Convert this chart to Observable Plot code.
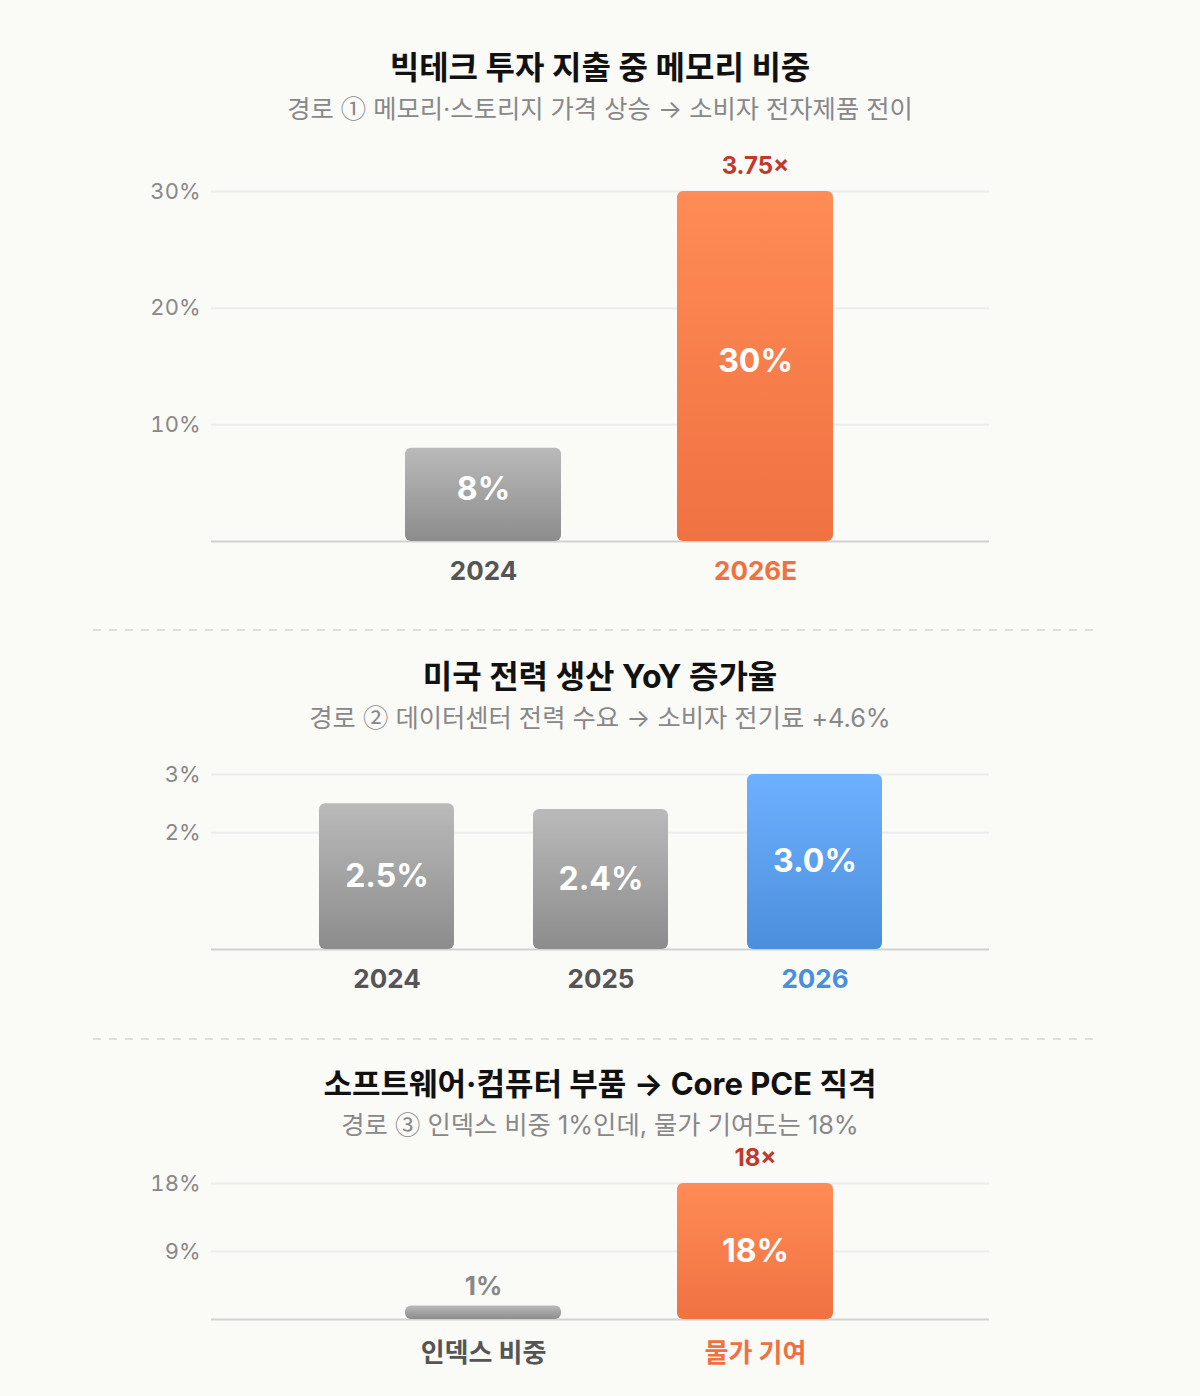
<!DOCTYPE html>
<html><head><meta charset="utf-8">
<script src="https://cdn.jsdelivr.net/npm/d3@7"></script>
<script src="https://cdn.jsdelivr.net/npm/@observablehq/plot@0.6"></script>
<style>
body{margin:0;background:#fafaf7;font-family:Inter,"Noto Sans CJK KR",sans-serif;}
#root{width:1200px;}
.title{font-size:32px;font-weight:700;color:#111;text-align:center;line-height:40px;height:40px;}
.title.t3{font-size:31px;}
.sub{font-size:25.3px;color:#888;text-align:center;line-height:32px;height:32px;margin-top:3px;}
.cjk{font-family:"Noto Sans CJK KR",sans-serif;}
.sep{margin-left:93px;width:1008px;height:2px;background:repeating-linear-gradient(to right,#dddddd 0 8px,transparent 8px 16px);}
svg{display:block;}
</style></head><body><div id="root"></div>
<script>
// Panel 1
const memTitle = "빅테크 투자 지출 중 메모리 비중";
const memSubtitle = "경로 ① 메모리·스토리지 가격 상승 → 소비자 전자제품 전이";
const memCategories = ["2024", "2026E"];
const memValues = [8, 30];
const memTicks = [10, 20, 30];
const memMultiplier = "3.75×";
// Panel 2
const powerTitle = "미국 전력 생산 YoY 증가율";
const powerSubtitle = "경로 ② 데이터센터 전력 수요 → 소비자 전기료 +4.6%";
const powerCategories = ["2024", "2025", "2026"];
const powerValues = [2.5, 2.4, 3.0];
const powerTicks = [2, 3];
// Panel 3
const pceTitle = "소프트웨어·컴퓨터 부품 → Core PCE 직격";
const pceSubtitle = "경로 ③ 인덱스 비중 1%인데, 물가 기여도는 18%";
const pceCategories = ["인덱스 비중", "물가 기여"];
const pceValues = [1, 18];
const pceTicks = [9, 18];
const pceMultiplier = "18×";

const FONT = 'Inter,"Noto Sans CJK KR",sans-serif';
const ACCENTS = {
  orange: {top: "#ff8b56", bottom: "#f07242", text: "#f07040"},
  blue: {top: "#6db0ff", bottom: "#4a8fdc", text: "#4a8fdc"}
};

const root = document.getElementById("root");
function addDiv(cls, text, mt) {
  const d = document.createElement("div");
  d.className = cls;
  if (text) {
    // circled numerals drawn from the CJK face
    for (const part of text.split(/([①②③])/)) {
      if (!part) continue;
      if (/[①②③]/.test(part)) {
        const s = document.createElement("span");
        s.className = "cjk";
        s.textContent = part;
        d.appendChild(s);
      } else d.appendChild(document.createTextNode(part));
    }
  }
  if (mt != null) d.style.marginTop = mt + "px";
  root.appendChild(d);
  return d;
}

function panel(o) {
  const data = o.cats.map((c, i) => ({cat: c, val: o.vals[i]}));
  const max = d3.max(o.vals);
  const isHi = d => d.cat === o.highlight;
  const gray = data.filter(d => !isHi(d));
  const hi = data.filter(isHi);
  const acc = ACCENTS[o.accent];
  const gid = "g" + o.id;
  const inside = data.filter(d => d.val / max >= 0.2);
  const outside = data.filter(d => d.val / max < 0.2);
  const marks = [
    Plot.ruleY(o.ticks, {stroke: "#ececec", strokeWidth: 2}),
    Plot.ruleY([0], {stroke: "#d2d2d2", strokeWidth: 2}),
    Plot.barY(gray, {x: "cat", y: "val", fill: `url(#${gid}-gray)`, rx: 6, insetTop: o.smallInset || 0}),
    Plot.barY(hi, {x: "cat", y: "val", fill: `url(#${gid}-hi)`, rx: 6}),
    Plot.axisY(o.ticks, {tickSize: 0, tickPadding: 11, tickFormat: d => d + "%", fontSize: 22, fill: "#888", label: null}),
    Plot.text(inside, {x: "cat", y: d => d.val / 2, dy: o.valueDy || 0, text: d => o.fmt(d.val), fill: "white", fontSize: 32, fontWeight: 700}),
    Plot.text(outside, {x: "cat", y: "val", dy: -25, text: d => o.fmt(d.val), fill: "#888", fontSize: 26, fontWeight: 700}),
    Plot.text(gray, {x: "cat", y: 0, dy: o.labelDy, text: "cat", fill: "#555", fontSize: 26, fontWeight: 700}),
    Plot.text(hi, {x: "cat", y: 0, dy: o.labelDy, text: "cat", fill: acc.text, fontSize: 26, fontWeight: 700})
  ];
  if (o.mult) {
    marks.push(Plot.text(hi, {x: "cat", y: "val", dy: -25, text: () => o.mult, fill: "#c0392b", fontSize: 24, fontWeight: 700}));
  }
  const svg = Plot.plot({
    width: 1200,
    height: o.height,
    marginLeft: 211,
    marginRight: 211,
    marginTop: o.marginTop,
    marginBottom: 50,
    style: {fontFamily: FONT, background: "transparent", overflow: "visible"},
    x: {domain: o.cats, axis: null, range: o.xRange, paddingInner: o.padIn, paddingOuter: o.padOut},
    y: {domain: [0, max], axis: null},
    marks
  });
  const defs = d3.select(svg).insert("defs", ":first-child");
  const mk = (id, top, bottom) => {
    const g = defs.append("linearGradient").attr("id", id).attr("x1", 0).attr("y1", 0).attr("x2", 0).attr("y2", 1);
    g.append("stop").attr("offset", "0%").attr("stop-color", top);
    g.append("stop").attr("offset", "100%").attr("stop-color", bottom);
  };
  mk(gid + "-gray", "#bababa", "#8c8c8c");
  mk(gid + "-hi", acc.top, acc.bottom);
  return svg;
}

// Panel 1
addDiv("title", memTitle, 48);
addDiv("sub", memSubtitle);
let s1 = panel({id: 1, cats: memCategories, vals: memValues, ticks: memTicks, highlight: "2026E", accent: "orange",
  mult: memMultiplier, fmt: v => v + "%", height: 451, marginTop: 51, xRange: [347, 891], padIn: 0.4265, padOut: 0.213,
  valueDy: -5, labelDy: 30});
s1.style.marginTop = "17px";
root.appendChild(s1);

addDiv("sep", null, 38);

// Panel 2
addDiv("title", powerTitle, 26);
addDiv("sub", powerSubtitle);
let s2 = panel({id: 2, cats: powerCategories, vals: powerValues, ticks: powerTicks, highlight: "2026", accent: "blue",
  fmt: v => v.toFixed(1) + "%", height: 254, marginTop: 29, xRange: [211, 989], padIn: 0.37, padOut: 0.5, labelDy: 30});
s2.style.marginTop = "13px";
root.appendChild(s2);

addDiv("sep", null, 39);

// Panel 3
addDiv("title t3", pceTitle, 24);
addDiv("sub", pceSubtitle);
let s3 = panel({id: 3, cats: pceCategories, vals: pceValues, ticks: pceTicks, highlight: "물가 기여", accent: "orange",
  mult: pceMultiplier, fmt: v => v + "%", height: 229, marginTop: 43, xRange: [347, 891], padIn: 0.4265, padOut: 0.213,
  smallInset: -6, labelDy: 34});
s3.style.marginTop = "1px";
root.appendChild(s3);
</script></body></html>
